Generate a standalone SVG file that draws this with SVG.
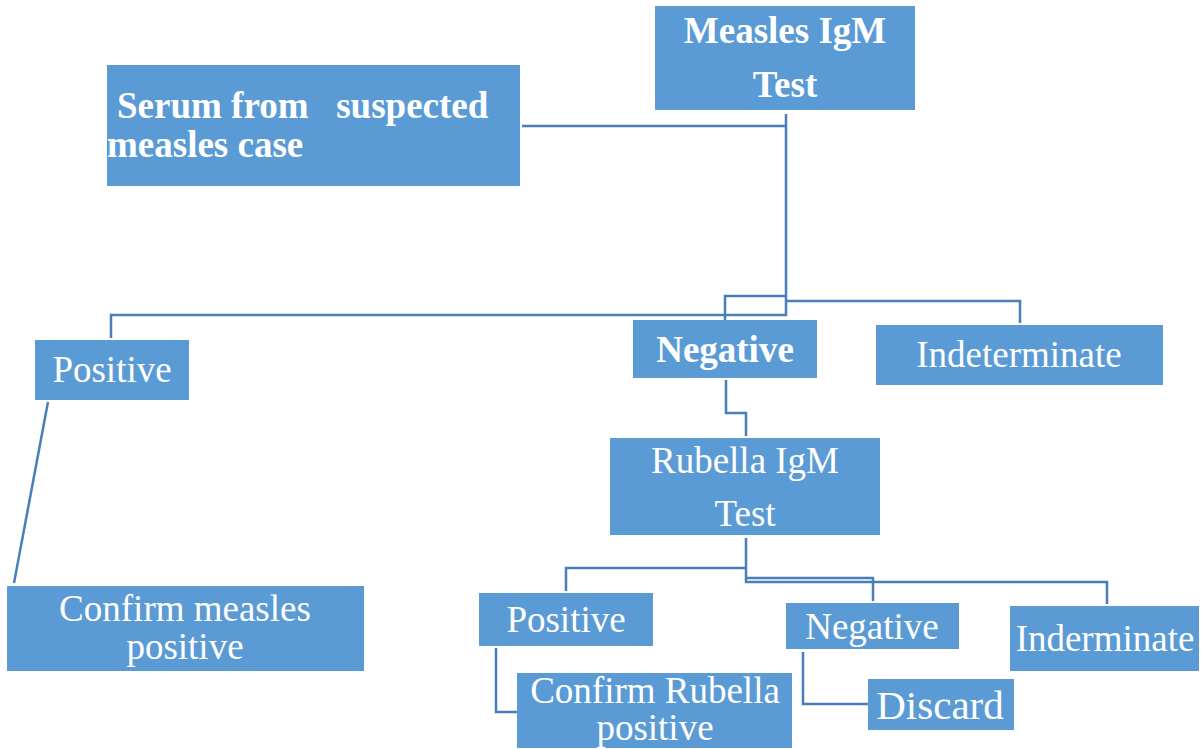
<svg xmlns="http://www.w3.org/2000/svg" width="1204" height="749" viewBox="0 0 1204 749">
<style>
.box{fill:#5b9bd5}
.t{font-family:"Liberation Serif","Times New Roman",serif;font-size:37px;fill:#ffffff;text-anchor:middle}
.b{font-weight:bold}
.c{fill:none;stroke:#4a7ebb;stroke-width:2.5}
</style>
<rect width="1204" height="749" fill="#ffffff"/>
<g id="connectors">
<path class="c" d="M522 126 H786 M786 114 V315 H111 V338"/>
<path class="c" d="M725 320 V296 H786"/>
<path class="c" d="M786 301 H1020 V323"/>
<path class="c" d="M48 402 L14 583"/>
<path class="c" d="M726 380 V413 H746 V436"/>
<path class="c" d="M746 538 V582 H1107 V604"/>
<path class="c" d="M746 568 H566 V591"/>
<path class="c" d="M746 578 H873 V601"/>
<path class="c" d="M496 648 V712 H517"/>
<path class="c" d="M803 652 V704 H868"/>
</g>
<g id="measles-igm">
<rect class="box" x="655" y="6" width="260" height="104"/>
<text class="t b" x="785" y="43">Measles IgM</text>
<text class="t b" x="785" y="97">Test</text>
</g>
<g id="serum">
<rect class="box" x="107" y="65" width="413" height="121"/>
<text class="t b" x="117" y="118" style="text-anchor:start;white-space:pre" xml:space="preserve">Serum from   suspected</text>
<text class="t b" x="107" y="157" style="text-anchor:start">measles case</text>
</g>
<g id="positive1">
<rect class="box" x="35" y="340" width="154" height="60"/>
<text class="t" x="112" y="382">Positive</text>
</g>
<g id="negative1">
<rect class="box" x="633" y="320" width="184" height="58"/>
<text class="t b" x="725" y="362">Negative</text>
</g>
<g id="indeterminate1">
<rect class="box" x="876" y="325" width="287" height="60"/>
<text class="t" x="1019" y="367">Indeterminate</text>
</g>
<g id="confirm-measles">
<rect class="box" x="7" y="586" width="357" height="85"/>
<text class="t" x="185" y="621">Confirm measles</text>
<text class="t" x="185" y="659">positive</text>
</g>
<g id="rubella-igm">
<rect class="box" x="610" y="438" width="270" height="97"/>
<text class="t" x="745" y="473">Rubella IgM</text>
<text class="t" x="745" y="526">Test</text>
</g>
<g id="positive2">
<rect class="box" x="479" y="593" width="174" height="53"/>
<text class="t" x="566" y="632">Positive</text>
</g>
<g id="negative2">
<rect class="box" x="786" y="603" width="173" height="46"/>
<text class="t" x="872" y="639">Negative</text>
</g>
<g id="inderminate2">
<rect class="box" x="1010" y="606" width="189" height="65"/>
<text class="t" x="1105" y="651">Inderminate</text>
</g>
<g id="confirm-rubella">
<rect class="box" x="517" y="673" width="275" height="75"/>
<text class="t" x="655" y="703">Confirm Rubella</text>
<text class="t" x="655" y="740">positive</text>
</g>
<g id="discard">
<rect class="box" x="868" y="679" width="146" height="51"/>
<text class="t" x="940" y="719" style="font-size:41px">Discard</text>
</g>
</svg>
